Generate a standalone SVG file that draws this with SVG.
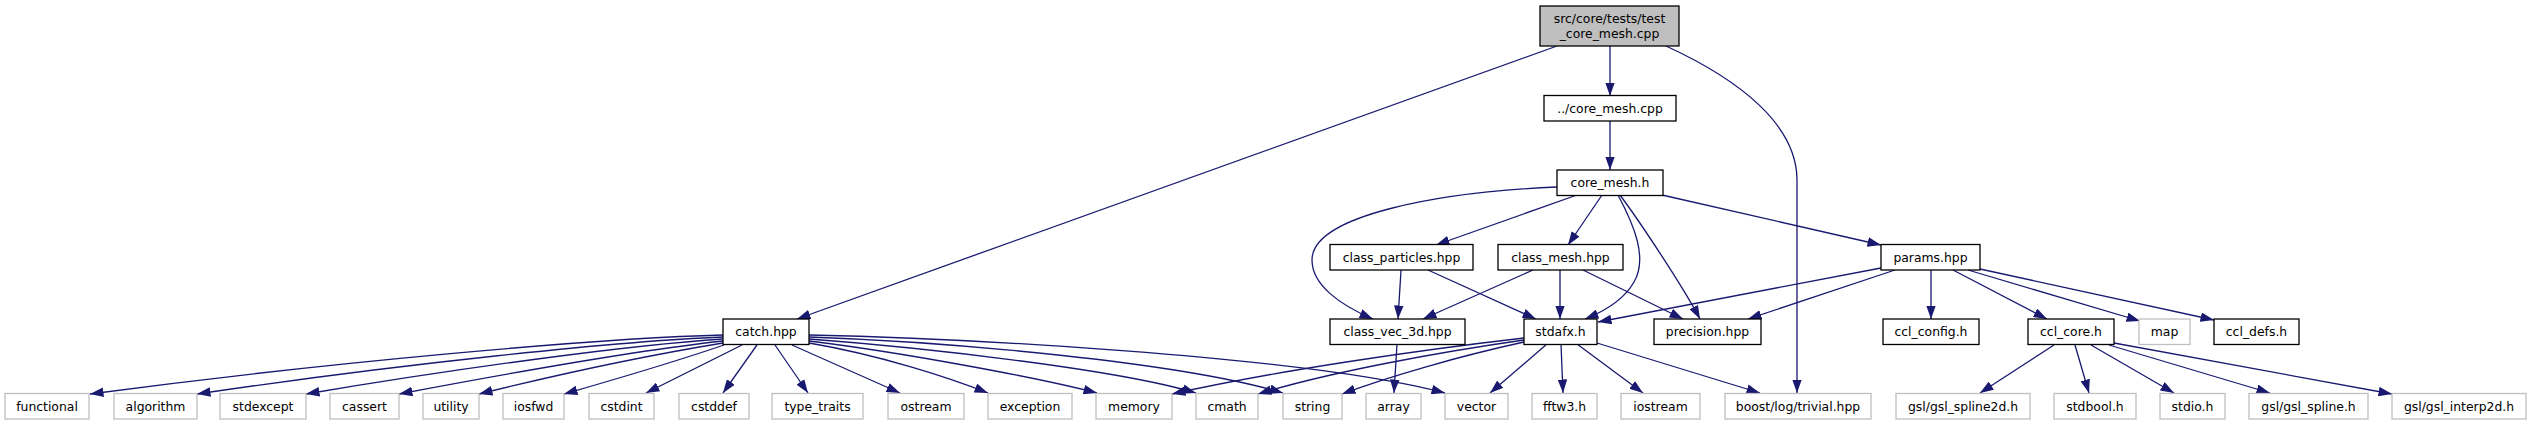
<svg xmlns="http://www.w3.org/2000/svg" width="2532" height="425" viewBox="0 0 2532 425">
<defs>
<style>
.n rect{fill:#fff;stroke:#000;stroke-width:1.3}
.x rect{fill:#fff;stroke:#bfbfbf;stroke-width:1.3}
.r rect{fill:#bfbfbf;stroke:#000;stroke-width:1.3}
text{font-family:"DejaVu Sans","Liberation Sans",sans-serif;font-size:12.4px;fill:#000;text-anchor:middle}
#edges path{fill:none;stroke:#191970;stroke-width:1.3;marker-end:url(#ah)}
</style>
<marker id="ah" markerUnits="userSpaceOnUse" viewBox="0 0 13.5 9.6" refX="13.5" refY="4.8" markerWidth="13.5" markerHeight="9.6" orient="auto">
<path d="M0,0 L13.5,4.8 L0,9.6 Z" fill="#191970"/>
</marker>
</defs>
<rect width="2532" height="425" fill="#fff"/>
<g id="edges">
<path d="M1557,46 L797,319"/>
<path d="M1610,46 L1610,96"/>
<path d="M1666,46 C1740,80 1797,125 1797,180 L1797,393"/>
<path d="M1610,121 L1610,170"/>
<path d="M1557,187 C1440,192 1312,215 1312,260 C1312,285 1340,305 1373,319"/>
<path d="M1577,195 L1436,245"/>
<path d="M1602,195 L1568,245"/>
<path d="M1618,195 C1634,225 1648,258 1634,282 C1624,300 1605,311 1585,319"/>
<path d="M1620,195 C1640,222 1682,285 1700,319"/>
<path d="M1662,195 L1881,245"/>
<path d="M1401,270 L1398,319"/>
<path d="M1428,270 L1536,319"/>
<path d="M1533,270 L1423,319"/>
<path d="M1560,270 L1560,319"/>
<path d="M1583,270 L1683,319"/>
<path d="M1881,268 L1598,322"/>
<path d="M1895,270 L1748,319"/>
<path d="M1931,270 L1931,319"/>
<path d="M1953,270 L2047,319"/>
<path d="M1968,270 L2140,321"/>
<path d="M1980,269 L2214,320"/>
<path d="M723,335 C600,338 330,362 90,394"/>
<path d="M723,337 C620,341 400,364 197,394"/>
<path d="M723,339 C630,345 460,368 306,394"/>
<path d="M723,341 C640,350 510,373 399,394"/>
<path d="M723,343 C650,355 560,374 479,394"/>
<path d="M724,345 C680,360 620,378 564,394"/>
<path d="M742,345 L646,393"/>
<path d="M757,345 L723,393"/>
<path d="M775,345 L808,393"/>
<path d="M792,345 L900,393"/>
<path d="M809,343 C880,355 950,378 988,393"/>
<path d="M809,341 C900,352 1040,378 1097,393"/>
<path d="M809,339 C930,348 1120,370 1196,393"/>
<path d="M809,337 C950,342 1180,362 1283,393"/>
<path d="M809,335 C950,338 1300,355 1445,393"/>
<path d="M1524,338 C1420,350 1280,370 1172,394"/>
<path d="M1524,340 C1440,352 1330,372 1258,394"/>
<path d="M1524,342 C1460,356 1390,376 1342,394"/>
<path d="M1547,344 L1490,393"/>
<path d="M1561,344 L1563,393"/>
<path d="M1577,344 L1643,393"/>
<path d="M1597,343 L1760,393"/>
<path d="M1397,344 L1394,393"/>
<path d="M2054,345 L1980,393"/>
<path d="M2075,345 L2089,393"/>
<path d="M2091,345 L2174,393"/>
<path d="M2109,345 L2270,393"/>
<path d="M2114,343 L2392,394"/>
</g>
<g id="root" class="r"><rect x="1540" y="6" width="139" height="40"/><text x="1609.5" y="22.5">src/core/tests/test</text><text x="1609.5" y="37.5">_core_mesh.cpp</text></g>
<g id="core_mesh_cpp" class="n"><rect x="1544" y="95.5" width="132" height="25.5"/><text x="1610" y="112.5">../core_mesh.cpp</text></g>
<g id="core_mesh_h" class="n"><rect x="1557" y="170" width="106" height="25.5"/><text x="1610" y="187">core_mesh.h</text></g>
<g id="class_particles" class="n"><rect x="1330" y="244.5" width="143" height="25.5"/><text x="1401.5" y="261.5">class_particles.hpp</text></g>
<g id="class_mesh" class="n"><rect x="1498" y="244.5" width="125" height="25.5"/><text x="1560.5" y="261.5">class_mesh.hpp</text></g>
<g id="params" class="n"><rect x="1881" y="244.5" width="99" height="25.5"/><text x="1930.5" y="261.5">params.hpp</text></g>
<g id="catch" class="n"><rect x="723" y="319" width="86" height="25.5"/><text x="766" y="336">catch.hpp</text></g>
<g id="class_vec_3d" class="n"><rect x="1330" y="319" width="135" height="25.5"/><text x="1397.5" y="336">class_vec_3d.hpp</text></g>
<g id="stdafx" class="n"><rect x="1524" y="319" width="73" height="25.5"/><text x="1560.5" y="336">stdafx.h</text></g>
<g id="precision" class="n"><rect x="1654" y="319" width="107" height="25.5"/><text x="1707.5" y="336">precision.hpp</text></g>
<g id="ccl_config" class="n"><rect x="1883" y="319" width="96" height="25.5"/><text x="1931" y="336">ccl_config.h</text></g>
<g id="ccl_core" class="n"><rect x="2028" y="319" width="86" height="25.5"/><text x="2071" y="336">ccl_core.h</text></g>
<g id="map" class="x"><rect x="2139" y="319" width="51" height="25.5"/><text x="2164.5" y="336">map</text></g>
<g id="ccl_defs" class="n"><rect x="2214" y="319" width="85" height="25.5"/><text x="2256.5" y="336">ccl_defs.h</text></g>
<g id="functional" class="x"><rect x="5" y="393.5" width="84" height="25.5"/><text x="47" y="410.5">functional</text></g>
<g id="algorithm" class="x"><rect x="114" y="393.5" width="83" height="25.5"/><text x="155.5" y="410.5">algorithm</text></g>
<g id="stdexcept" class="x"><rect x="220" y="393.5" width="86" height="25.5"/><text x="263" y="410.5">stdexcept</text></g>
<g id="cassert" class="x"><rect x="330" y="393.5" width="69" height="25.5"/><text x="364.5" y="410.5">cassert</text></g>
<g id="utility" class="x"><rect x="423" y="393.5" width="56" height="25.5"/><text x="451" y="410.5">utility</text></g>
<g id="iosfwd" class="x"><rect x="503" y="393.5" width="61" height="25.5"/><text x="533.5" y="410.5">iosfwd</text></g>
<g id="cstdint" class="x"><rect x="589" y="393.5" width="65" height="25.5"/><text x="621.5" y="410.5">cstdint</text></g>
<g id="cstddef" class="x"><rect x="679" y="393.5" width="70" height="25.5"/><text x="714" y="410.5">cstddef</text></g>
<g id="type_traits" class="x"><rect x="772" y="393.5" width="91" height="25.5"/><text x="817.5" y="410.5">type_traits</text></g>
<g id="ostream" class="x"><rect x="888" y="393.5" width="76" height="25.5"/><text x="926" y="410.5">ostream</text></g>
<g id="exception" class="x"><rect x="988" y="393.5" width="84" height="25.5"/><text x="1030" y="410.5">exception</text></g>
<g id="memory" class="x"><rect x="1096" y="393.5" width="76" height="25.5"/><text x="1134" y="410.5">memory</text></g>
<g id="cmath" class="x"><rect x="1196" y="393.5" width="62" height="25.5"/><text x="1227" y="410.5">cmath</text></g>
<g id="string" class="x"><rect x="1283" y="393.5" width="59" height="25.5"/><text x="1312.5" y="410.5">string</text></g>
<g id="array" class="x"><rect x="1366" y="393.5" width="55" height="25.5"/><text x="1393.5" y="410.5">array</text></g>
<g id="vector" class="x"><rect x="1445" y="393.5" width="63" height="25.5"/><text x="1476.5" y="410.5">vector</text></g>
<g id="fftw3" class="x"><rect x="1532" y="393.5" width="65" height="25.5"/><text x="1564.5" y="410.5">fftw3.h</text></g>
<g id="iostream" class="x"><rect x="1621" y="393.5" width="79" height="25.5"/><text x="1660.5" y="410.5">iostream</text></g>
<g id="boost_trivial" class="x"><rect x="1725" y="393.5" width="146" height="25.5"/><text x="1798" y="410.5">boost/log/trivial.hpp</text></g>
<g id="gsl_spline2d" class="x"><rect x="1896" y="393.5" width="134" height="25.5"/><text x="1963" y="410.5">gsl/gsl_spline2d.h</text></g>
<g id="stdbool" class="x"><rect x="2054" y="393.5" width="82" height="25.5"/><text x="2095" y="410.5">stdbool.h</text></g>
<g id="stdio" class="x"><rect x="2160" y="393.5" width="65" height="25.5"/><text x="2192.5" y="410.5">stdio.h</text></g>
<g id="gsl_spline" class="x"><rect x="2249" y="393.5" width="119" height="25.5"/><text x="2308.5" y="410.5">gsl/gsl_spline.h</text></g>
<g id="gsl_interp2d" class="x"><rect x="2392" y="393.5" width="134" height="25.5"/><text x="2459" y="410.5">gsl/gsl_interp2d.h</text></g>
</svg>
